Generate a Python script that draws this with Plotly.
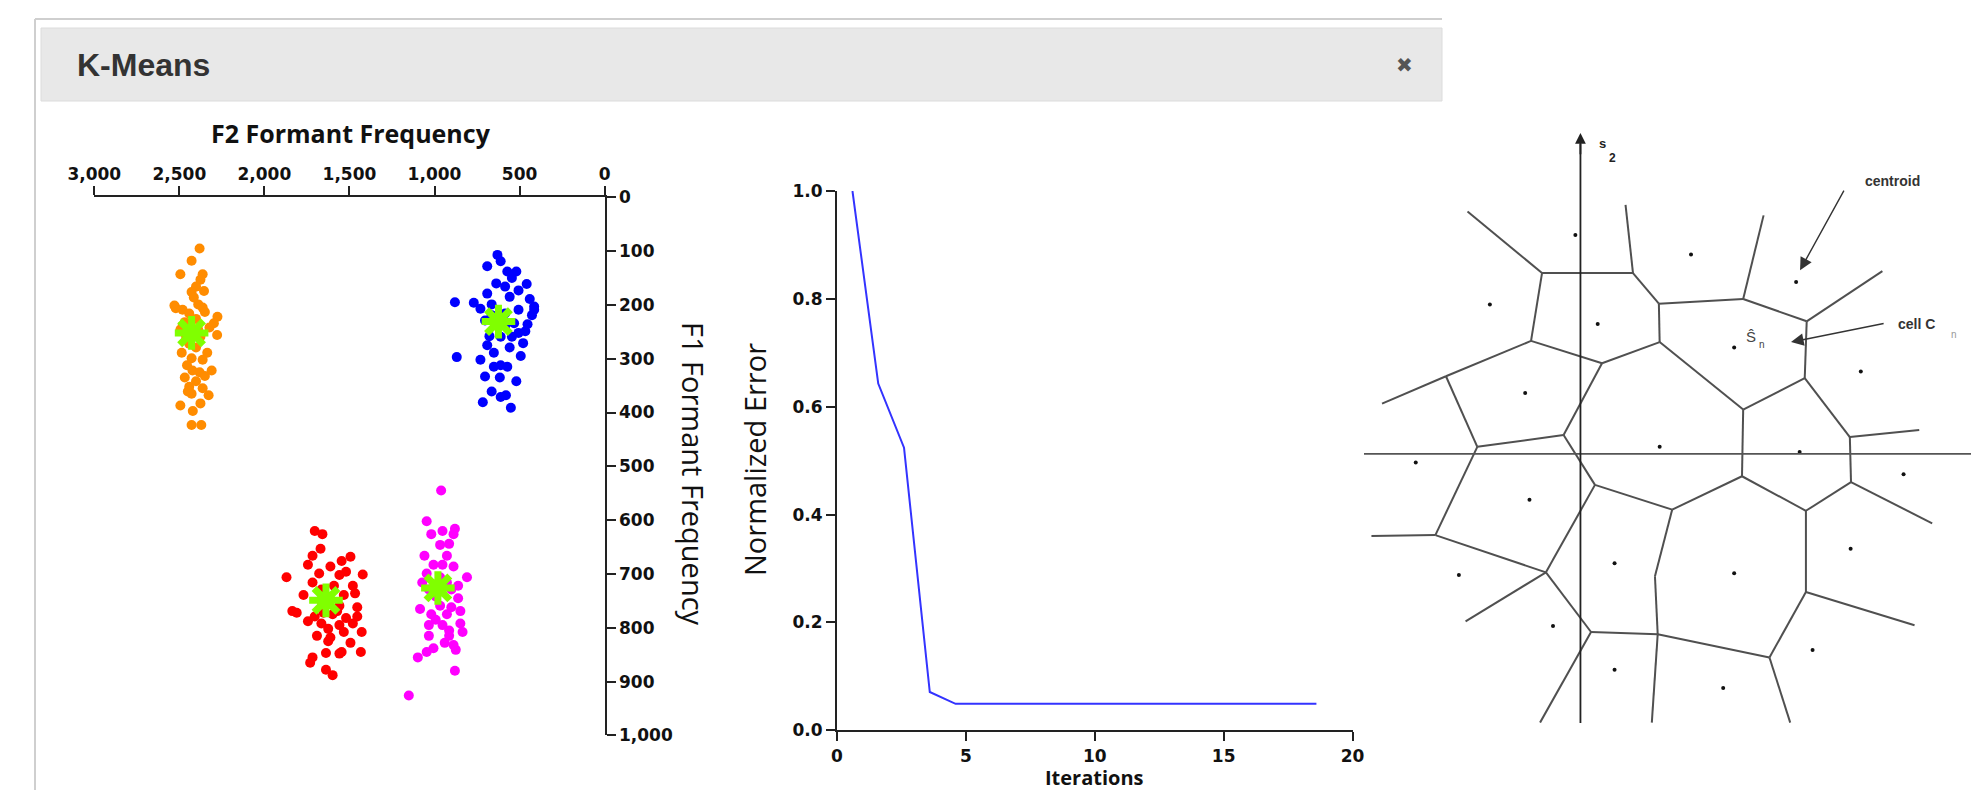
import plotly.graph_objects as go

W, H = 1971, 790

# ---------------- K-means scatter data (F2 = x, F1 = y, in Hz) ----------------
orange_f2 = [2381, 2428, 2494, 2363, 2376, 2402, 2428, 2355, 2415, 2529, 2481, 2389, 2363, 2442,
             2276, 2297, 2468, 2402, 2494, 2323, 2278, 2376, 2442, 2486, 2336, 2402, 2428, 2363,
             2310, 2455, 2381, 2468, 2402, 2350, 2442, 2363, 2328, 2428, 2494, 2376, 2421, 2428,
             2371, 2521, 2350, 2460, 2389, 2423, 2450, 2481]
orange_f1 = [95, 118, 143, 143, 153, 166, 176, 174, 186, 201, 209, 199, 205, 216,
             222, 234, 232, 226, 246, 242, 256, 259, 272, 289, 289, 279, 299, 302,
             322, 312, 325, 335, 342, 332, 352, 355, 368, 365, 387, 383, 397, 423,
             423, 206, 213, 259, 246, 322, 361, 239]

blue_f2 = [630, 611, 690, 572, 519, 545, 637, 458, 585, 506, 690, 558, 440, 880, 730, 664, 414,
           506, 585, 427, 703, 532, 466, 677, 611, 545, 479, 690, 558, 651, 493, 869, 730, 611,
           651, 572, 703, 616, 519, 664, 611, 580, 716, 551, 769, 664, 506, 585, 414, 453]
blue_f1 = [107, 119, 128, 138, 138, 150, 160, 161, 166, 173, 179, 185, 189, 195, 207, 199, 203,
           209, 216, 219, 229, 234, 249, 258, 259, 259, 271, 275, 279, 289, 295, 297, 302, 312,
           315, 315, 333, 335, 342, 361, 371, 368, 381, 391, 196, 219, 252, 239, 209, 236]

red_f2 = [1704, 1659, 1670, 1717, 1494, 1546, 1744, 1612, 1870, 1678, 1559, 1422, 1717, 1591,
          1480, 1770, 1533, 1467, 1659, 1559, 1836, 1810, 1704, 1599, 1520, 1454, 1665, 1559,
          1480, 1691, 1612, 1428, 1533, 1625, 1494, 1546, 1638, 1433, 1717, 1731, 1559, 1638,
          1599, 1665, 1520, 1744, 1572, 1625, 1454, 1652]
red_f1 = [620, 626, 653, 666, 668, 676, 683, 686, 706, 699, 702, 701, 716, 722,
          722, 739, 739, 736, 755, 759, 769, 772, 779, 775, 782, 779, 792, 795,
          792, 815, 818, 808, 808, 825, 828, 845, 847, 845, 855, 865, 848, 878,
          888, 729, 696, 788, 769, 802, 762, 772]

magenta_f2 = [961, 1046, 880, 953, 1019, 888, 914, 967, 1059, 927, 1006, 888, 809, 1046, 967,
              1072, 861, 901, 993, 861, 1085, 848, 967, 1019, 927, 848, 1033, 953, 835, 1033,
              914, 888, 1006, 1046, 1098, 880, 1151, 940, 901, 993, 927, 1033, 953, 914, 875]
magenta_f1 = [545, 602, 616, 620, 626, 626, 644, 646, 666, 666, 683, 686, 706, 699, 706,
              716, 722, 729, 742, 745, 765, 769, 759, 775, 775, 792, 795, 795, 808, 815,
              815, 832, 838, 845, 855, 880, 926, 828, 762, 785, 716, 729, 683, 805, 841]

centroid_f2 = [2428, 624, 1638, 980]
centroid_f1 = [252, 231, 749, 726]

f2_ticks = [3000, 2500, 2000, 1500, 1000, 500, 0]
f1_ticks = [0, 100, 200, 300, 400, 500, 600, 700, 800, 900, 1000]

# ---------------- Convergence data ----------------
iterations = [0.6, 1.6, 2.6, 3.6, 4.6, 5.6, 6.6, 7.6, 8.6, 9.6, 10.6, 11.6, 12.6,
              13.6, 14.6, 15.6, 16.6, 17.6, 18.6]
norm_error = [1.0, 0.643, 0.524, 0.071, 0.049, 0.049, 0.049, 0.049, 0.049, 0.049,
              0.049, 0.049, 0.049, 0.049, 0.049, 0.049, 0.049, 0.049, 0.049]
iter_ticks = [0, 5, 10, 15, 20]
err_ticks = [0.0, 0.2, 0.4, 0.6, 0.8, 1.0]

# ---------------- Voronoi diagram data (s1, s2 units) ----------------
vor_vertices = {
    "A": (-0.98, 4.61), "B": (1.34, 4.61), "C": (2.00, 3.83), "D": (4.15, 3.95),
    "E": (5.77, 3.38), "F": (5.72, 1.93), "G": (4.15, 1.13), "H": (2.02, 2.85),
    "I": (0.55, 2.31), "J": (-1.26, 2.88), "K": (-3.43, 1.98), "L": (-2.63, 0.18),
    "M": (-0.43, 0.48), "N": (0.37, -0.79), "O": (4.12, -0.57), "P": (6.87, 0.43),
    "Q": (6.90, -0.72), "R": (5.75, -1.45), "S": (2.34, -1.42), "T": (-3.70, -2.07),
    "U": (-0.88, -3.02), "V": (0.27, -4.54), "W": (1.97, -4.60), "X": (1.90, -3.12),
    "Y": (5.75, -3.52), "Z": (4.82, -5.19),
    "a1": (-2.88, 6.18), "b1": (1.15, 6.35), "d1": (4.67, 6.08), "e1": (7.70, 4.66),
    "k1": (-5.06, 1.28), "p1": (8.64, 0.61), "q1": (8.97, -1.77), "t1": (-5.33, -2.09),
    "u1": (-2.93, -4.27), "v1": (-1.03, -6.85), "w1": (1.82, -6.85), "z1": (5.35, -6.85),
    "y1": (8.52, -4.37),
}
vor_edges = [("A", "B"), ("A", "a1"), ("B", "b1"), ("B", "C"), ("C", "D"), ("D", "d1"),
             ("D", "E"), ("E", "e1"), ("E", "F"), ("C", "H"), ("H", "I"), ("I", "J"),
             ("J", "A"), ("J", "K"), ("K", "k1"), ("K", "L"), ("L", "M"), ("M", "I"),
             ("H", "G"), ("G", "F"), ("G", "O"), ("F", "P"), ("P", "p1"), ("P", "Q"),
             ("Q", "q1"), ("Q", "R"), ("R", "O"), ("O", "S"), ("S", "N"), ("N", "M"),
             ("L", "T"), ("T", "t1"), ("T", "U"), ("N", "U"), ("U", "u1"), ("U", "V"),
             ("V", "W"), ("V", "v1"), ("S", "X"), ("X", "W"), ("W", "w1"), ("W", "Z"),
             ("Z", "z1"), ("Z", "Y"), ("Y", "R"), ("Y", "y1")]
vor_centroids_s1 = [-0.13, 2.82, 5.50, -2.31, 0.44, 3.92, 7.15, -1.41, 2.02, 5.59, -4.20,
                    8.24, -1.30, 6.89, 0.87, 3.92, -3.10, -0.70, 5.92, 0.87, 3.64]
vor_centroids_s2 = [5.58, 5.08, 4.38, 3.81, 3.31, 2.71, 2.10, 1.55, 0.18, 0.05, -0.22,
                    -0.52, -1.17, -2.42, -2.79, -3.04, -3.09, -4.39, -5.00, -5.50, -5.97]
vor_s1_range = [-5.52, 9.96]
vor_s2_range = [-6.86, 8.18]


def px(x):
    return x / W


def py(y):
    return 1 - y / H


fig = go.Figure()

# scatter clusters
for f2, f1, col in [(orange_f2, orange_f1, "#ff8c00"), (blue_f2, blue_f1, "#0000ff"),
                    (red_f2, red_f1, "#ff0000"), (magenta_f2, magenta_f1, "#ff00ff")]:
    fig.add_trace(go.Scatter(x=f2, y=f1, mode="markers", xaxis="x", yaxis="y",
                             marker=dict(color=col, size=10, line=dict(width=0)),
                             showlegend=False, hoverinfo="skip"))
fig.add_trace(go.Scatter(x=centroid_f2, y=centroid_f1, mode="markers", xaxis="x", yaxis="y",
                         marker=dict(symbol="asterisk", size=28,
                                     line=dict(color="#80ff00", width=7)),
                         showlegend=False, hoverinfo="skip"))

# convergence line
fig.add_trace(go.Scatter(x=iterations, y=norm_error, mode="lines", xaxis="x2", yaxis="y2",
                         line=dict(color="#3333ff", width=2), showlegend=False,
                         hoverinfo="skip"))

# voronoi edges
ex, ey = [], []
for a, b in vor_edges:
    ex += [vor_vertices[a][0], vor_vertices[b][0], None]
    ey += [vor_vertices[a][1], vor_vertices[b][1], None]
fig.add_trace(go.Scatter(x=ex, y=ey, mode="lines", xaxis="x3", yaxis="y3",
                         line=dict(color="#505050", width=2), showlegend=False,
                         hoverinfo="skip"))
fig.add_trace(go.Scatter(x=vor_centroids_s1, y=vor_centroids_s2, mode="markers",
                         xaxis="x3", yaxis="y3",
                         marker=dict(color="#111", size=4), showlegend=False,
                         hoverinfo="skip"))

tickfont = dict(family="DejaVu Sans", size=17, color="#111", weight="bold")
axis_common = dict(showgrid=False, zeroline=False, showline=True, linecolor="#222",
                   linewidth=2, ticks="outside", ticklen=9, tickwidth=2, tickcolor="#222",
                   tickfont=tickfont, fixedrange=True, automargin=False)

fig.update_layout(
    width=W, height=H, autosize=False,
    margin=dict(l=0, r=0, t=0, b=0, pad=0),
    paper_bgcolor="white", plot_bgcolor="rgba(0,0,0,0)",
    xaxis=dict(domain=[px(94.3), px(604.6)], range=[3000, 0], side="top", anchor="y",
               tickvals=f2_ticks, tickformat=",", **axis_common),
    yaxis=dict(domain=[py(735.4), py(197.3)], range=[1000, 0], side="right", anchor="x",
               tickvals=f1_ticks, tickformat=",", **axis_common),
    xaxis2=dict(domain=[px(837), px(1352.5)], range=[0, 20], anchor="y2",
                tickvals=iter_ticks, **axis_common),
    yaxis2=dict(domain=[py(730.3), py(191)], range=[0, 1.0], anchor="x2",
                tickvals=err_ticks, tickformat=".1f", **axis_common),
    xaxis3=dict(domain=[px(1364), 1.0], range=vor_s1_range, anchor="y3", visible=False,
                fixedrange=True, automargin=False),
    yaxis3=dict(domain=[py(723), py(133)], range=vor_s2_range, anchor="x3", visible=False,
                fixedrange=True, automargin=False),
)

shapes = [
    # panel border
    dict(type="line", xref="paper", yref="paper", x0=px(35), x1=px(1442), y0=py(19), y1=py(19),
         line=dict(color="#cfcfcf", width=2)),
    dict(type="line", xref="paper", yref="paper", x0=px(35), x1=px(35), y0=py(19), y1=0,
         line=dict(color="#cfcfcf", width=2)),
    # header bar
    dict(type="rect", xref="paper", yref="paper", x0=px(41), x1=px(1442), y0=py(101), y1=py(28),
         fillcolor="#e8e8e8", line=dict(color="#dcdcdc", width=1), layer="below"),
    # voronoi axes
    dict(type="line", xref="x3", yref="y3", x0=vor_s1_range[0], x1=vor_s1_range[1], y0=0, y1=0,
         line=dict(color="#555", width=1.8)),
    dict(type="line", xref="x3", yref="y3", x0=0, x1=0, y0=vor_s2_range[0], y1=7.9,
         line=dict(color="#222", width=1.8)),
]
fig.update_layout(shapes=shapes)

title_font = dict(family="Open Sans", size=25, color="#111", weight="bold")
label_font = dict(family="Open Sans", size=29, color="#111")
vlab = dict(family="Liberation Sans", size=14, color="#333", weight="bold")
ann = [
    dict(text="K-Means", x=px(75), y=py(65), xref="paper", yref="paper", xanchor="left",
         yanchor="middle", showarrow=False,
         font=dict(family="Liberation Sans", size=32, color="#333", weight="bold")),
    dict(text="✖", x=px(1404), y=py(65), xref="paper", yref="paper", xanchor="center",
         yanchor="middle", showarrow=False,
         font=dict(family="DejaVu Sans", size=20, color="#555")),
    dict(text="F2 Formant Frequency", x=px(351), y=py(133), xref="paper", yref="paper",
         xanchor="center", yanchor="middle", showarrow=False, font=title_font),
    dict(text="F1 Formant Frequency", x=px(694), y=py(474), xref="paper", yref="paper",
         xanchor="center", yanchor="middle", showarrow=False, textangle=90, font=label_font),
    dict(text="Normalized Error", x=px(754), y=py(460), xref="paper", yref="paper",
         xanchor="center", yanchor="middle", showarrow=False, textangle=-90, font=label_font),
    dict(text="Iterations", x=px(1094), y=py(777), xref="paper", yref="paper",
         xanchor="center", yanchor="middle", showarrow=False,
         font=dict(family="Open Sans", size=20, color="#111", weight="bold")),
    # voronoi labels
    dict(text="s", x=0.55, y=7.9, xref="x3", yref="y3", showarrow=False,
         font=dict(family="Liberation Sans", size=13, color="#222", weight="bold")),
    dict(text="2", x=0.82, y=7.55, xref="x3", yref="y3", showarrow=False,
         font=dict(family="Liberation Sans", size=12, color="#222", weight="bold")),
    dict(text="centroid", x=7.97, y=6.95, xref="x3", yref="y3", showarrow=False, font=vlab),
    dict(text="cell C", x=8.57, y=3.31, xref="x3", yref="y3", showarrow=False, font=vlab),
    dict(text="n", x=9.52, y=3.05, xref="x3", yref="y3", showarrow=False,
         font=dict(family="Liberation Sans", size=10, color="#999")),
    dict(text="Ŝ", x=4.34, y=3.0, xref="x3", yref="y3", showarrow=False,
         font=dict(family="Liberation Sans", size=15, color="#444")),
    dict(text="n", x=4.62, y=2.78, xref="x3", yref="y3", showarrow=False,
         font=dict(family="Liberation Sans", size=10, color="#444")),
    # arrows
    dict(x=5.60, y=4.68, ax=6.74, ay=6.75, xref="x3", yref="y3", axref="x3", ayref="y3",
         text="", showarrow=True, arrowhead=2, arrowsize=1.8, arrowwidth=1.4,
         arrowcolor="#333"),
    dict(x=5.37, y=2.85, ax=7.77, ay=3.33, xref="x3", yref="y3", axref="x3", ayref="y3",
         text="", showarrow=True, arrowhead=2, arrowsize=1.8, arrowwidth=1.4,
         arrowcolor="#333"),
    dict(x=0, y=8.18, ax=0, ay=7.6, xref="x3", yref="y3", axref="x3", ayref="y3",
         text="", showarrow=True, arrowhead=2, arrowsize=1.2, arrowwidth=1.8,
         arrowcolor="#222"),
]
fig.update_layout(annotations=ann)

fig.write_html("out.html", config={"displayModeBar": False},
               post_script="document.body.style.margin='0';document.body.style.overflow='hidden';")
